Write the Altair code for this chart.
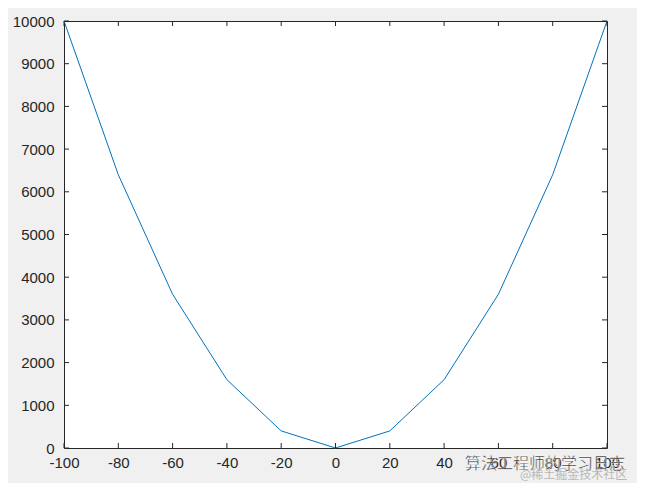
import altair as alt
import pandas as pd

x_vals = [-100, -80, -60, -40, -20, 0, 20, 40, 60, 80, 100]
y_vals = [10000, 6400, 3600, 1600, 400, 0, 400, 1600, 3600, 6400, 10000]
x_ticks = [-100, -80, -60, -40, -20, 0, 20, 40, 60, 80, 100]
y_ticks = [0, 1000, 2000, 3000, 4000, 5000, 6000, 7000, 8000, 9000, 10000]

W, H = 543, 427
FONT = "Liberation Sans"
TL = 5

df = pd.DataFrame({"x": x_vals, "y": y_vals})
dx = pd.DataFrame({"t": x_ticks})
dy = pd.DataFrame({"t": y_ticks})

xs = alt.Scale(domain=[-100, 100], nice=False, zero=False)
ys = alt.Scale(domain=[0, 10000], nice=False)

line = alt.Chart(df).mark_line(color="#0072BD", strokeWidth=1).encode(
    x=alt.X("x:Q", scale=xs, title=None,
            axis=alt.Axis(values=x_ticks, tickSize=0, domain=False, grid=False,
                          labelExpr="'' + datum.value",
                          labelFontSize=15, labelColor="#262626", labelFont=FONT,
                          labelPadding=7, labelFlush=False, labelOverlap=False)),
    y=alt.Y("y:Q", scale=ys, title=None,
            axis=alt.Axis(values=y_ticks, tickSize=0, domain=False, grid=False,
                          labelExpr="'' + datum.value",
                          labelFontSize=15, labelColor="#262626", labelFont=FONT,
                          labelPadding=10, labelFlush=False, labelOverlap=False)),
)

tick_color = "#262626"
bx = alt.Chart(dx).mark_rule(color=tick_color, strokeWidth=1).encode(
    x=alt.X("t:Q", scale=xs), y=alt.value(H), y2=alt.value(H - TL))
tx = alt.Chart(dx).mark_rule(color=tick_color, strokeWidth=1).encode(
    x=alt.X("t:Q", scale=xs), y=alt.value(0), y2=alt.value(TL))
ly = alt.Chart(dy).mark_rule(color=tick_color, strokeWidth=1).encode(
    y=alt.Y("t:Q", scale=ys), x=alt.value(0), x2=alt.value(TL))
ry = alt.Chart(dy).mark_rule(color=tick_color, strokeWidth=1).encode(
    y=alt.Y("t:Q", scale=ys), x=alt.value(W), x2=alt.value(W - TL))

wm1 = alt.Chart(pd.DataFrame({"s": ["算法工程师的学习日志"]})).mark_text(
    font="Noto Sans CJK SC", fontSize=16, color="#2a2a2a", align="left",
    baseline="middle", stroke="white", strokeWidth=0.4).encode(
    text="s:N", x=alt.value(401), y=alt.value(443))
wm2 = alt.Chart(pd.DataFrame({"s": ["@稀土掘金技术社区"]})).mark_text(
    font="Noto Sans CJK SC", fontSize=12, color="#b8b8b8", align="left",
    baseline="middle").encode(
    text="s:N", x=alt.value(456), y=alt.value(454))

chart = alt.layer(line, bx, tx, ly, ry, wm1, wm2).properties(
    width=W, height=H,
    background="#f0f0f0",
    autosize=alt.AutoSizeParams(type="none"),
    padding={"left": 56, "top": 13, "right": 30, "bottom": 35},
).configure_view(fill="white", stroke="#262626", strokeWidth=1)

chart.save("out.html", embed_options={"renderer": "svg", "actions": False})
